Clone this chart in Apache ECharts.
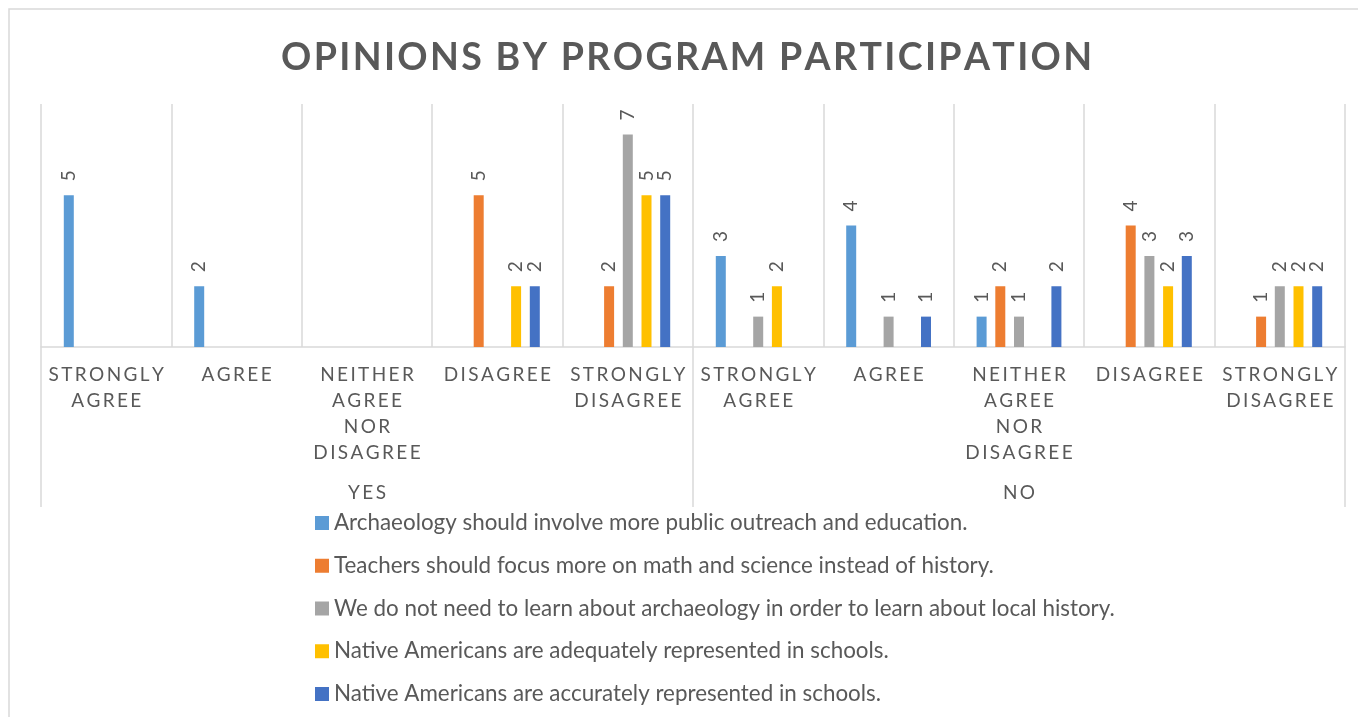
<!DOCTYPE html>
<html>
<head>
<meta charset="utf-8">
<script src="https://cdn.jsdelivr.net/npm/echarts@6/dist/echarts.min.js"></script>
<style>
  html, body { margin: 0; padding: 0; background: #fff; }
  #chart { width: 1358px; height: 717px; }
</style>
</head>
<body>
<div id="chart"></div>
<script>
// Responses grouped by program participation (YES / NO)
const groups = ['YES', 'NO'];
const responses = ['STRONGLY AGREE', 'AGREE', 'NEITHER AGREE NOR DISAGREE', 'DISAGREE', 'STRONGLY DISAGREE'];
const categories = [...responses, ...responses];

const seriesNames = [
  'Archaeology should involve more public outreach and education.',
  'Teachers should focus more on math and science instead of history.',
  'We do not need to learn about archaeology in order to learn about local history.',
  'Native Americans are adequately represented in schools.',
  'Native Americans are accurately represented in schools.'
];

// Counts per category (null = no responses)
const outreach   = [5, 2, null, null, null, 3, 4, 1, null, null];
const mathFocus  = [null, null, null, 5, 2, null, null, 2, 4, 1];
const noNeed     = [null, null, null, null, 7, 1, 1, 1, 3, 2];
const adequately = [null, null, null, 2, 5, 2, null, null, 2, 2];
const accurately = [null, null, null, 2, 5, null, 1, 2, 3, 2];

const seriesValues = [outreach, mathFocus, noNeed, adequately, accurately];
const colors = ['#5B9BD5', '#ED7D31', '#A5A5A5', '#FFC000', '#4472C4'];

const TEXT = '#595959';
const LINE = '#d9d9d9';
const FONT = 'Lato';

// letter-spaced caps, one word per line
function spaced(s, sep) {
  return s.split(' ').map(w => w.split('').join(sep)).join('\n');
}
function spacedInline(s, sep) {
  return s.split(' ').map(w => w.split('').join(sep)).join(sep + ' ' + sep);
}

const chart = echarts.init(document.getElementById('chart'), null, { renderer: 'canvas' });

chart.setOption({
  animation: false,
  backgroundColor: '#fff',
  title: {
    text: spacedInline('OPINIONS BY PROGRAM PARTICIPATION', '\u200A'),
    left: 281,
    top: 39,
    padding: 0,
    textStyle: { fontFamily: FONT, fontWeight: 'bold', fontSize: 37.5, color: TEXT }
  },
  graphic: [{
    type: 'rect',
    shape: { x: 9, y: 9, width: 1400, height: 800 },
    style: { fill: 'none', stroke: LINE, lineWidth: 1.5 },
    silent: true
  }],
  legend: {
    orient: 'vertical',
    left: 315,
    top: 511,
    padding: 0,
    itemWidth: 14,
    itemHeight: 14,
    itemGap: 18.75,
    icon: 'rect',
    data: seriesNames,
    textStyle: { fontFamily: FONT, fontSize: 22.4, color: TEXT, lineHeight: 24 }
  },
  grid: { left: 41, right: 13, top: 104, bottom: 370, containLabel: false },
  xAxis: [{
    type: 'category',
    position: 'bottom',
    data: categories,
    axisLine: { show: true, lineStyle: { color: LINE, width: 1.5 } },
    axisTick: { show: false },
    splitLine: { show: true, interval: 0, lineStyle: { color: LINE, width: 1.5 } },
    axisLabel: {
      interval: 0,
      margin: 15,
      fontFamily: FONT,
      fontSize: 19,
      lineHeight: 26,
      color: TEXT,
      formatter: v => spaced(v, '\u2009')
    }
  }, {
    type: 'category',
    position: 'bottom',
    data: groups,
    axisLine: { show: false },
    axisTick: { show: true, interval: 0, length: 160, lineStyle: { color: LINE, width: 1.5 } },
    splitLine: { show: false },
    axisLabel: {
      interval: 0,
      margin: 133,
      fontFamily: FONT,
      fontSize: 19,
      lineHeight: 26,
      color: TEXT,
      formatter: v => spaced(v, '\u2009')
    }
  }],
  yAxis: {
    type: 'value',
    min: 0,
    max: 8,
    show: false,
    splitLine: { show: false }
  },
  series: seriesNames.map((name, i) => ({
    name,
    type: 'bar',
    xAxisIndex: 0,
    data: seriesValues[i],
    barWidth: 10,
    barGap: '87%',
    itemStyle: { color: colors[i] },
    label: {
      show: true,
      position: 'top',
      distance: 14,
      rotate: 90,
      align: 'left',
      verticalAlign: 'middle',
      fontFamily: FONT,
      fontSize: 19,
      color: TEXT
    }
  }))
});
</script>
</body>
</html>
